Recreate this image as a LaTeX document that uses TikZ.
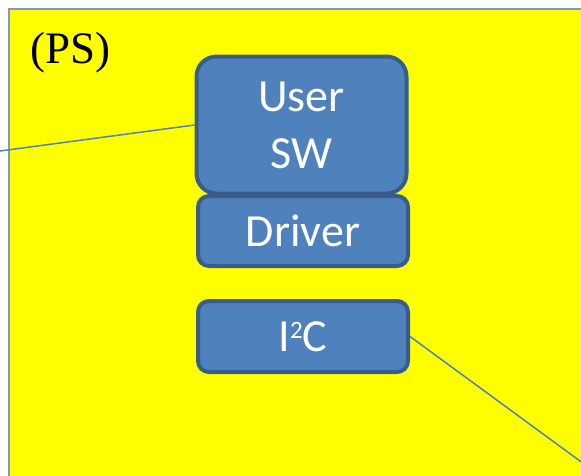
\documentclass[tikz,border=0pt]{standalone}
\usepackage{fontspec}
\setmainfont{Liberation Serif}
\newfontfamily\boxfont{Carlito}
\definecolor{boxfill}{RGB}{79,129,189}
\definecolor{boxline}{RGB}{56,93,138}
\definecolor{frameline}{RGB}{126,151,196}
\definecolor{bgyellow}{RGB}{255,255,0}
\tikzset{
  swbox/.style={draw=boxline, fill=boxfill, line width=4pt, text=white,
    font=\boxfont\fontsize{46}{57}\selectfont, align=center, inner sep=0pt,
    minimum width=210pt},
  wire/.style={draw=boxfill, line width=1.5pt}
}
\begin{document}
\begin{tikzpicture}[x=1pt,y=-1pt]
\useasboundingbox (0,0) rectangle (581,475);
\clip (0,0) rectangle (581,475);
\fill[white] (0,0) rectangle (581,475);
\draw[frameline, fill=bgyellow, line width=1.2pt] (9,9) rectangle (600,500);
\node[font=\fontsize{45}{50}\selectfont, anchor=base west] (ps) at (27,63) {(PS)};
\node[swbox, rounded corners=11pt, minimum height=70pt] (drv) at (303,231) {Driver};
\node[swbox, rounded corners=20pt, minimum height=137pt] (usr) at (301.5,125) {User\\SW};
\node[swbox, rounded corners=11pt, minimum height=71pt] (i2c) at (303,336.5) {I\raisebox{13pt}{\fontsize{25}{25}\selectfont 2}C};
\coordinate (lend) at (0,151);
\coordinate (rend) at (595,472);
\draw[wire] (usr.west) -- (lend);
\draw[wire] (i2c.east) -- (rend);
\end{tikzpicture}
\end{document}
